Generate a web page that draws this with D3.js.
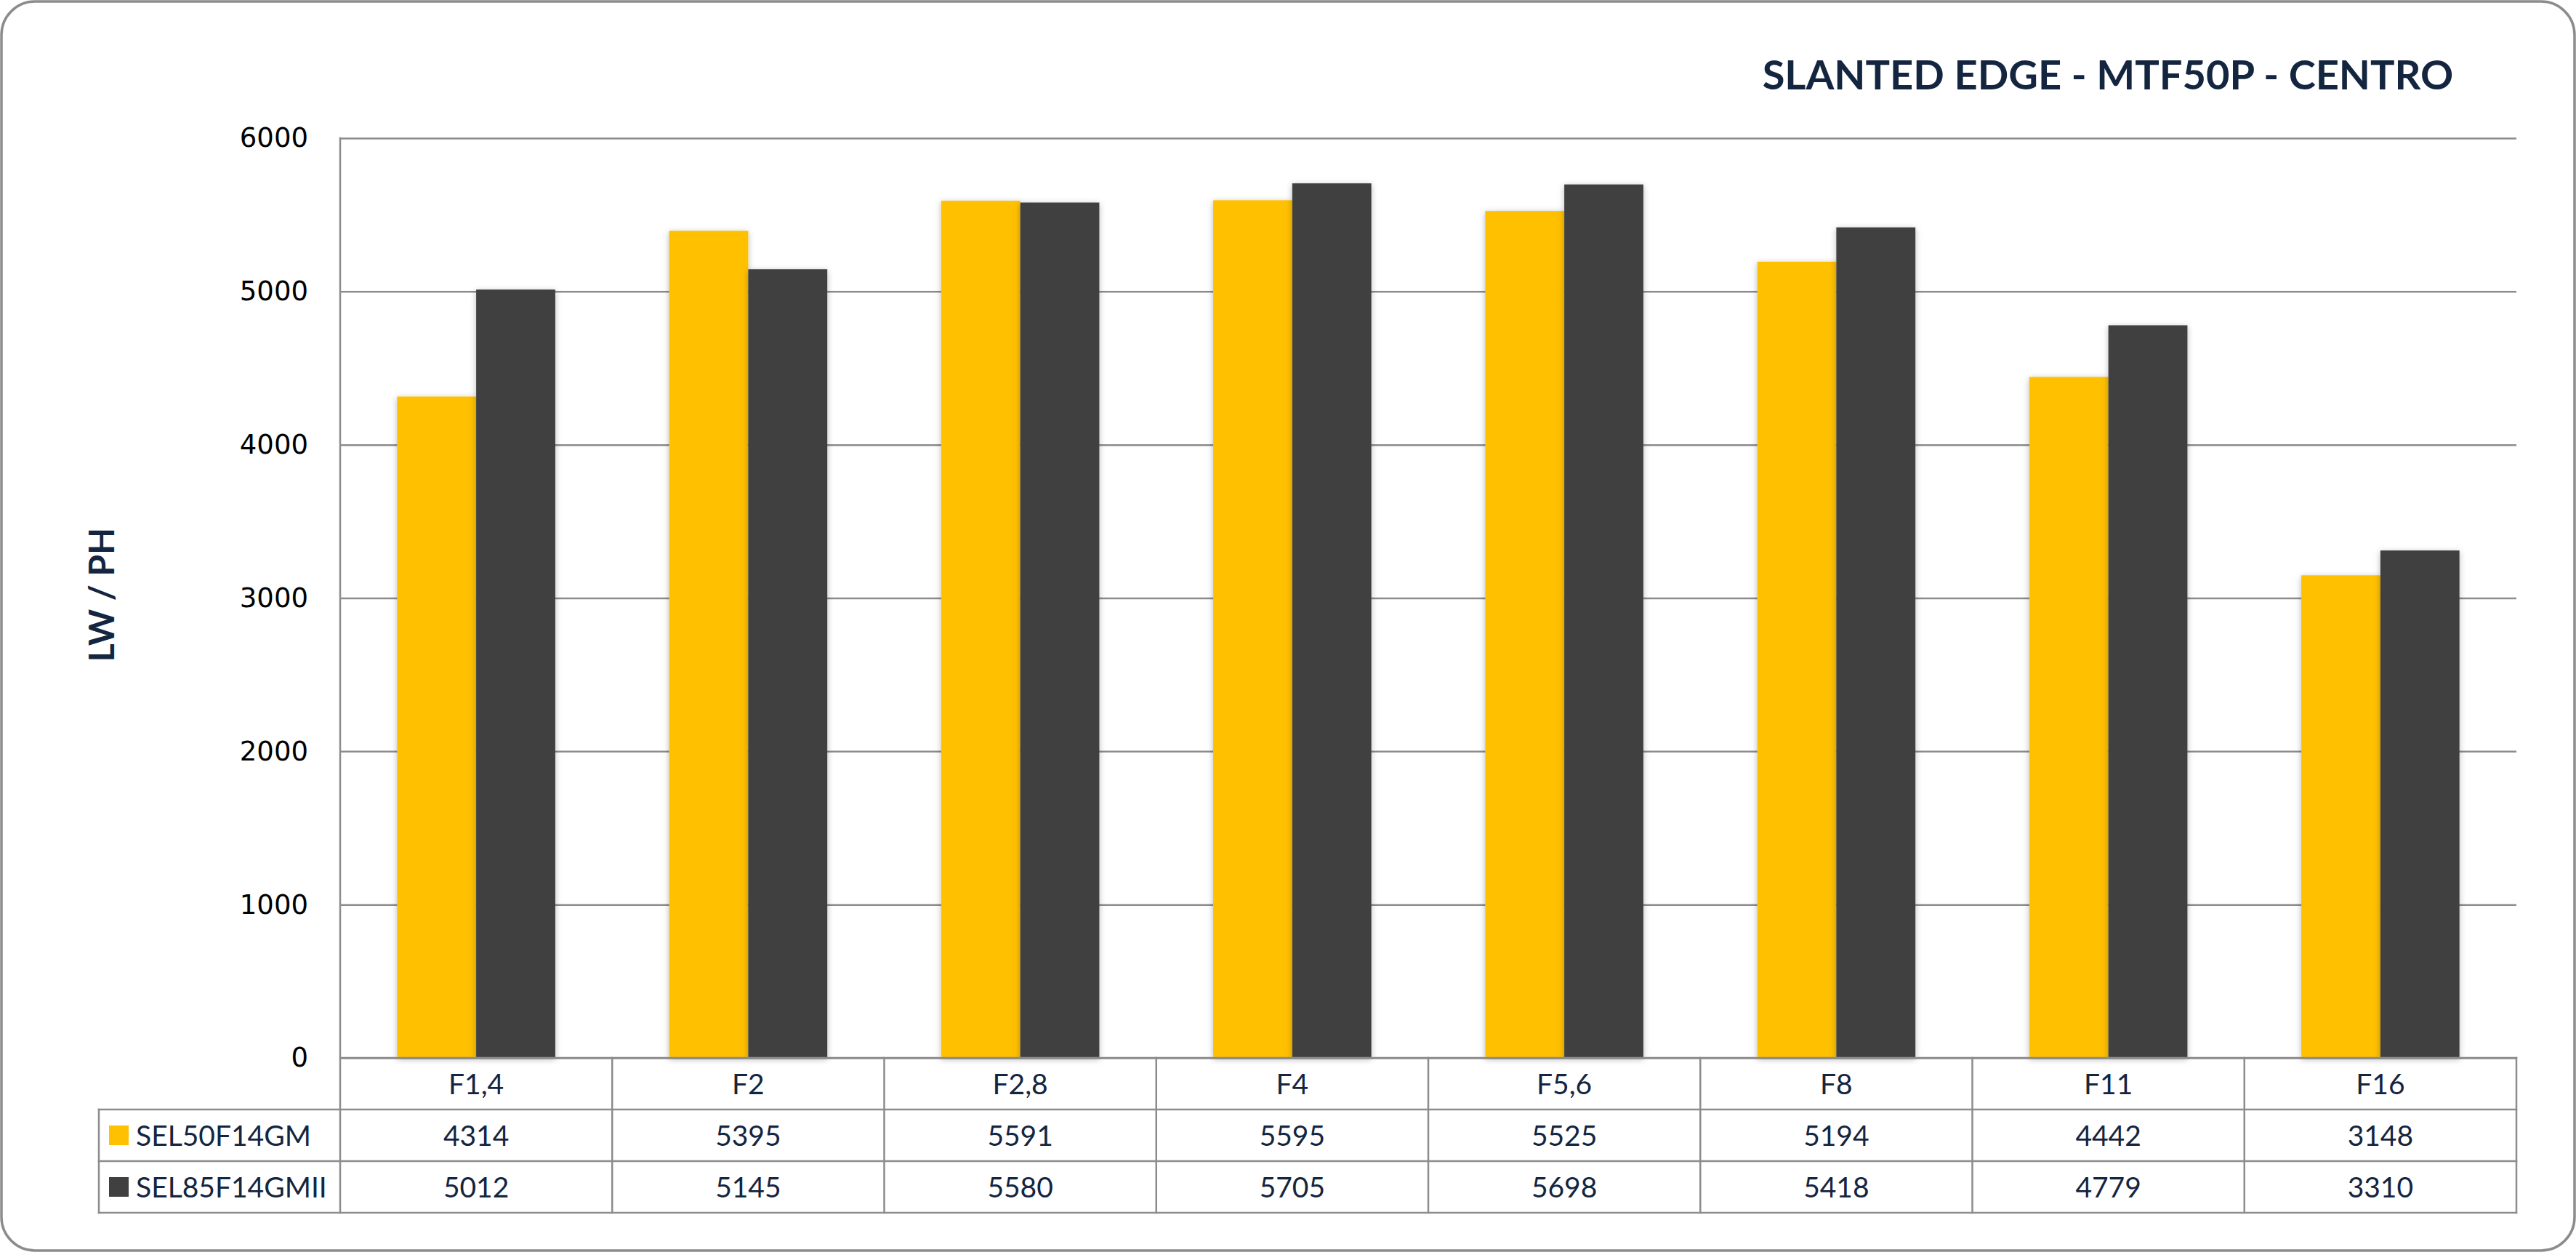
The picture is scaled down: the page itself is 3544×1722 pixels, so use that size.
<!DOCTYPE html>
<html>
<head>
<meta charset="utf-8">
<script src="https://cdn.jsdelivr.net/npm/d3@7"></script>
<style>
    body { margin: 0; background: #fff; }
    svg { display: block; }
</style>
</head>
<body>
<svg id="chart" width="3544" height="1722"></svg>
<script>
// chart values
var categories = ["F1,4", "F2", "F2,8", "F4", "F5,6", "F8", "F11", "F16"];
var seriesNames = ["SEL50F14GM", "SEL85F14GMII"];
var sel50Values = [4314, 5395, 5591, 5595, 5525, 5194, 4442, 3148];
var sel85Values = [5012, 5145, 5580, 5705, 5698, 5418, 4779, 3310];
var yTickValues = [0, 1000, 2000, 3000, 4000, 5000, 6000];
var titleText = "SLANTED EDGE - MTF50P - CENTRO";
var yAxisTitle = "LW / PH";

var seriesValues = [sel50Values, sel85Values];

var svg = d3.select("#chart");
var width = +svg.attr("width");
var height = +svg.attr("height");

var navy = "#14253f";
var lineGray = "#8c8c8c";

var plot = { left: 468, right: 3462, top: 190, bottom: 1455 };
var table = { left: 136, rowH: 71 };

var x0 = d3.scaleBand()
    .domain(categories)
    .range([plot.left, plot.right])
    .padding(0);

var x1 = d3.scaleBand()
    .domain(seriesNames)
    .range([0, x0.bandwidth()])
    .paddingInner(0)
    .paddingOuter(0.72);

var y = d3.scaleLinear()
    .domain([0, 6000])
    .range([plot.bottom, plot.top]);

var color = d3.scaleOrdinal()
    .domain(seriesNames)
    .range(["#ffc000", "#404040"]);

// soft shadow like the office chart
var defs = svg.append("defs");
var filt = defs.append("filter")
    .attr("id", "barShadow")
    .attr("x", "-20%").attr("y", "-5%")
    .attr("width", "140%").attr("height", "110%");
filt.append("feDropShadow")
    .attr("dx", 0).attr("dy", 2)
    .attr("stdDeviation", 4)
    .attr("flood-color", "#000")
    .attr("flood-opacity", 0.28);

// outer frame
svg.append("rect")
    .attr("x", 2).attr("y", 2)
    .attr("width", width - 4).attr("height", height - 4)
    .attr("rx", 46).attr("ry", 46)
    .attr("fill", "#fff")
    .attr("stroke", lineGray)
    .attr("stroke-width", 3.5);

// title
svg.append("text")
    .attr("x", 2900)
    .attr("y", 123)
    .attr("text-anchor", "middle")
    .attr("font-family", "Lato, 'Open Sans', sans-serif")
    .attr("font-weight", "bold")
    .attr("font-size", 56)
    .attr("fill", navy)
    .text(titleText);

// y axis with gridlines
var yAxis = d3.axisLeft(y)
    .tickValues(yTickValues)
    .tickSize(-(plot.right - plot.left))
    .tickPadding(44)
    .tickFormat(d3.format("d"));

var gy = svg.append("g")
    .attr("transform", "translate(" + plot.left + ",0)")
    .call(yAxis);

gy.select(".domain").remove();
gy.selectAll(".tick line")
    .attr("stroke", lineGray)
    .attr("stroke-width", 2.5);
gy.selectAll(".tick text")
    .attr("font-family", "'DejaVu Sans', Verdana, sans-serif")
    .attr("font-size", 37)
    .attr("fill", "#000");

// y axis title
svg.append("text")
    .attr("transform", "translate(157,818)rotate(-90)")
    .attr("text-anchor", "middle")
    .attr("font-family", "Lato, 'Open Sans', sans-serif")
    .attr("font-weight", "bold")
    .attr("font-size", 48)
    .attr("fill", navy)
    .text(yAxisTitle);

// bars
var groups = svg.append("g")
    .selectAll("g.cat")
    .data(categories)
    .enter().append("g")
    .attr("class", "cat")
    .attr("transform", function (d) { return "translate(" + x0(d) + ",0)"; });

groups.selectAll("rect")
    .data(function (d, i) {
        return seriesNames.map(function (s, j) {
            return { series: s, value: seriesValues[j][i] };
        });
    })
    .enter().append("rect")
    .attr("x", function (d) { return x1(d.series); })
    .attr("y", function (d) { return y(d.value); })
    .attr("width", x1.bandwidth())
    .attr("height", function (d) { return y(0) - y(d.value); })
    .attr("fill", function (d) { return color(d.series); })
    .attr("filter", "url(#barShadow)");

// data table under the plot
var rowTop = [plot.bottom, plot.bottom + table.rowH, plot.bottom + 2 * table.rowH];
var tableBottom = plot.bottom + 3 * table.rowH;
var tg = svg.append("g");

// horizontal lines
tg.append("line")
    .attr("x1", plot.left).attr("x2", plot.right)
    .attr("y1", plot.bottom).attr("y2", plot.bottom);
[rowTop[1], rowTop[2], tableBottom].forEach(function (yy) {
    tg.append("line")
        .attr("x1", table.left).attr("x2", plot.right)
        .attr("y1", yy).attr("y2", yy);
});

// vertical lines
tg.append("line")
    .attr("x1", plot.left).attr("x2", plot.left)
    .attr("y1", plot.top).attr("y2", tableBottom);
tg.append("line")
    .attr("x1", table.left).attr("x2", table.left)
    .attr("y1", rowTop[1]).attr("y2", tableBottom);
categories.forEach(function (c) {
    var xr = x0(c) + x0.bandwidth();
    tg.append("line")
        .attr("x1", xr).attr("x2", xr)
        .attr("y1", plot.bottom).attr("y2", tableBottom);
});

tg.selectAll("line")
    .attr("stroke", lineGray)
    .attr("stroke-width", 2.5)
    .attr("stroke-linecap", "square");

var cellFont = "Lato, 'Open Sans', sans-serif";

// category row
tg.selectAll("text.cat")
    .data(categories)
    .enter().append("text")
    .attr("class", "cat")
    .attr("x", function (d) { return x0(d) + x0.bandwidth() / 2; })
    .attr("y", rowTop[0] + table.rowH / 2 + 14)
    .attr("text-anchor", "middle")
    .attr("font-family", cellFont)
    .attr("font-size", 39)
    .attr("fill", navy)
    .text(function (d) { return d; });

// value rows with legend keys
seriesNames.forEach(function (s, j) {
    var cy = rowTop[j + 1] + table.rowH / 2;

    tg.append("rect")
        .attr("x", 150)
        .attr("y", cy - 13.5)
        .attr("width", 27)
        .attr("height", 27)
        .attr("fill", color(s));

    tg.append("text")
        .attr("x", 187)
        .attr("y", cy + 14)
        .attr("font-family", cellFont)
        .attr("font-size", 39)
        .attr("fill", navy)
        .text(s);

    tg.selectAll("text.val" + j)
        .data(seriesValues[j])
        .enter().append("text")
        .attr("class", "val" + j)
        .attr("x", function (d, i) { return x0(categories[i]) + x0.bandwidth() / 2; })
        .attr("y", cy + 14)
        .attr("text-anchor", "middle")
        .attr("font-family", cellFont)
        .attr("font-size", 39)
        .attr("fill", navy)
        .text(function (d) { return d; });
});
</script>
</body>
</html>
